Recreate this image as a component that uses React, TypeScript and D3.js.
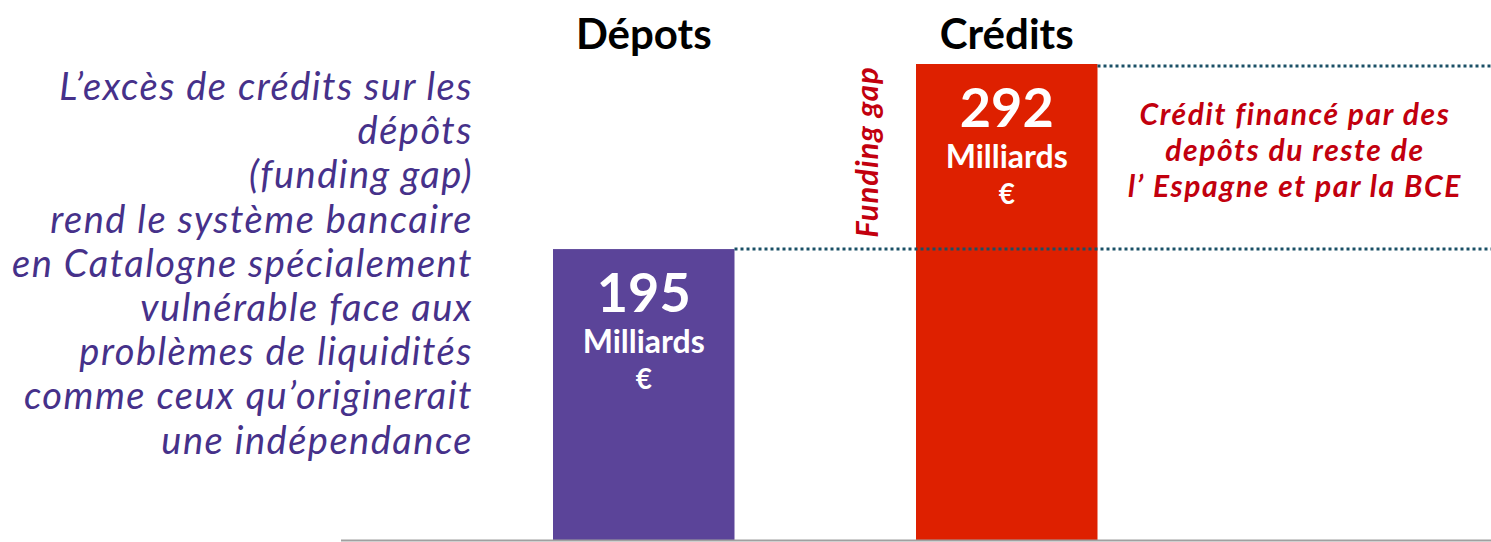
import React from 'react'
import * as d3 from 'd3'

const categories = ['Dépots', 'Crédits']
const values = [195, 292]
const barColors = ['#5b4499', '#de2000']
const unitLines = ['Milliards', '€']

const leftNote = [
    'L\u2019excès de crédits sur les',
    'dépôts',
    '(funding gap)',
    'rend le système bancaire',
    'en Catalogne spécialement',
    'vulnérable face aux',
    'problèmes de liquidités',
    'comme ceux qu\u2019originerait',
    'une indépendance',
]
const rightNote = [
    'Crédit financé par des',
    'depôts du reste de',
    'l\u2019 Espagne et par la BCE',
]
const gapLabel = 'Funding gap'

const W = 1491
const H = 542
const FONT = 'Lato, "Open Sans", sans-serif'

export default function App() {
    const baseY = 540.5

    const x = d3.scaleBand()
        .domain(categories)
        .range([371.5, 1279])
        .paddingInner(0.5)
        .paddingOuter(0.5)

    // the value axis does not start at zero: the chart is cut at the bottom
    const y = d3.scaleLinear()
        .domain([42, 292])
        .range([541, 64])

    const bw = x.bandwidth()
    const lowTop = y(values[0])
    const highTop = y(values[1])
    const creditRight = x(categories[1]) + bw

    return (
        <svg width={W} height={H}
            style={{ position: 'fixed', left: 0, top: 0, display: 'block', background: '#fff' }}>
            {/* bars */}
            {categories.map((c, i) => (
                <rect key={c}
                    x={x(c)}
                    y={y(values[i])}
                    width={bw}
                    height={baseY - y(values[i])}
                    fill={barColors[i]} />
            ))}

            {/* dotted reference lines */}
            <line x1={x(categories[0]) + bw} x2={W} y1={lowTop} y2={lowTop}
                stroke='#1a5066' strokeWidth={3} strokeDasharray='3,3' />
            <line x1={creditRight} x2={W} y1={highTop + 2} y2={highTop + 2}
                stroke='#1a5066' strokeWidth={3} strokeDasharray='3,3' />

            {/* baseline */}
            <line x1={341} x2={W} y1={baseY} y2={baseY} stroke='#a0a0a0' strokeWidth={2} />

            {/* category titles */}
            {categories.map(c => (
                <text key={c} x={x(c) + bw / 2} y={49} textAnchor='middle'
                    fontFamily={FONT} fontWeight={700} fontSize={42} fill='#000'>
                    {c}
                </text>
            ))}

            {/* values inside bars */}
            {categories.map((c, i) => {
                const cx = x(c) + bw / 2
                const top = y(values[i])
                return (
                    <g key={c} fill='#fff' fontFamily={FONT} textAnchor='middle' fontWeight={700}>
                        <text x={cx} y={top + 63} fontSize={54}>{values[i]}</text>
                        <text x={cx} y={top + 104} fontSize={32}>{unitLines[0]}</text>
                        <text x={cx} y={top + 140} fontSize={28}>{unitLines[1]}</text>
                    </g>
                )
            })}

            {/* funding gap label */}
            <text transform={`translate(878,152) rotate(-90)`}
                textAnchor='middle' fontFamily={FONT} fontWeight={700} fontStyle='italic'
                fontSize={31} letterSpacing={1} fill='#c2000e'>
                {gapLabel}
            </text>

            {/* left explanatory note */}
            {leftNote.map((t, i) => (
                <text key={i} x={473} y={100 + i * 44.2} textAnchor='end'
                    fontFamily={FONT} fontStyle='italic' fontSize={38} letterSpacing={1.5}
                    fill='#46318a'>
                    {t}
                </text>
            ))}

            {/* right note */}
            {rightNote.map((t, i) => (
                <text key={i} x={1295} y={125 + i * 36} textAnchor='middle'
                    fontFamily={FONT} fontStyle='italic' fontWeight={700} fontSize={30}
                    letterSpacing={1.6} fill='#c2000e'>
                    {t}
                </text>
            ))}
        </svg>
    )
}
